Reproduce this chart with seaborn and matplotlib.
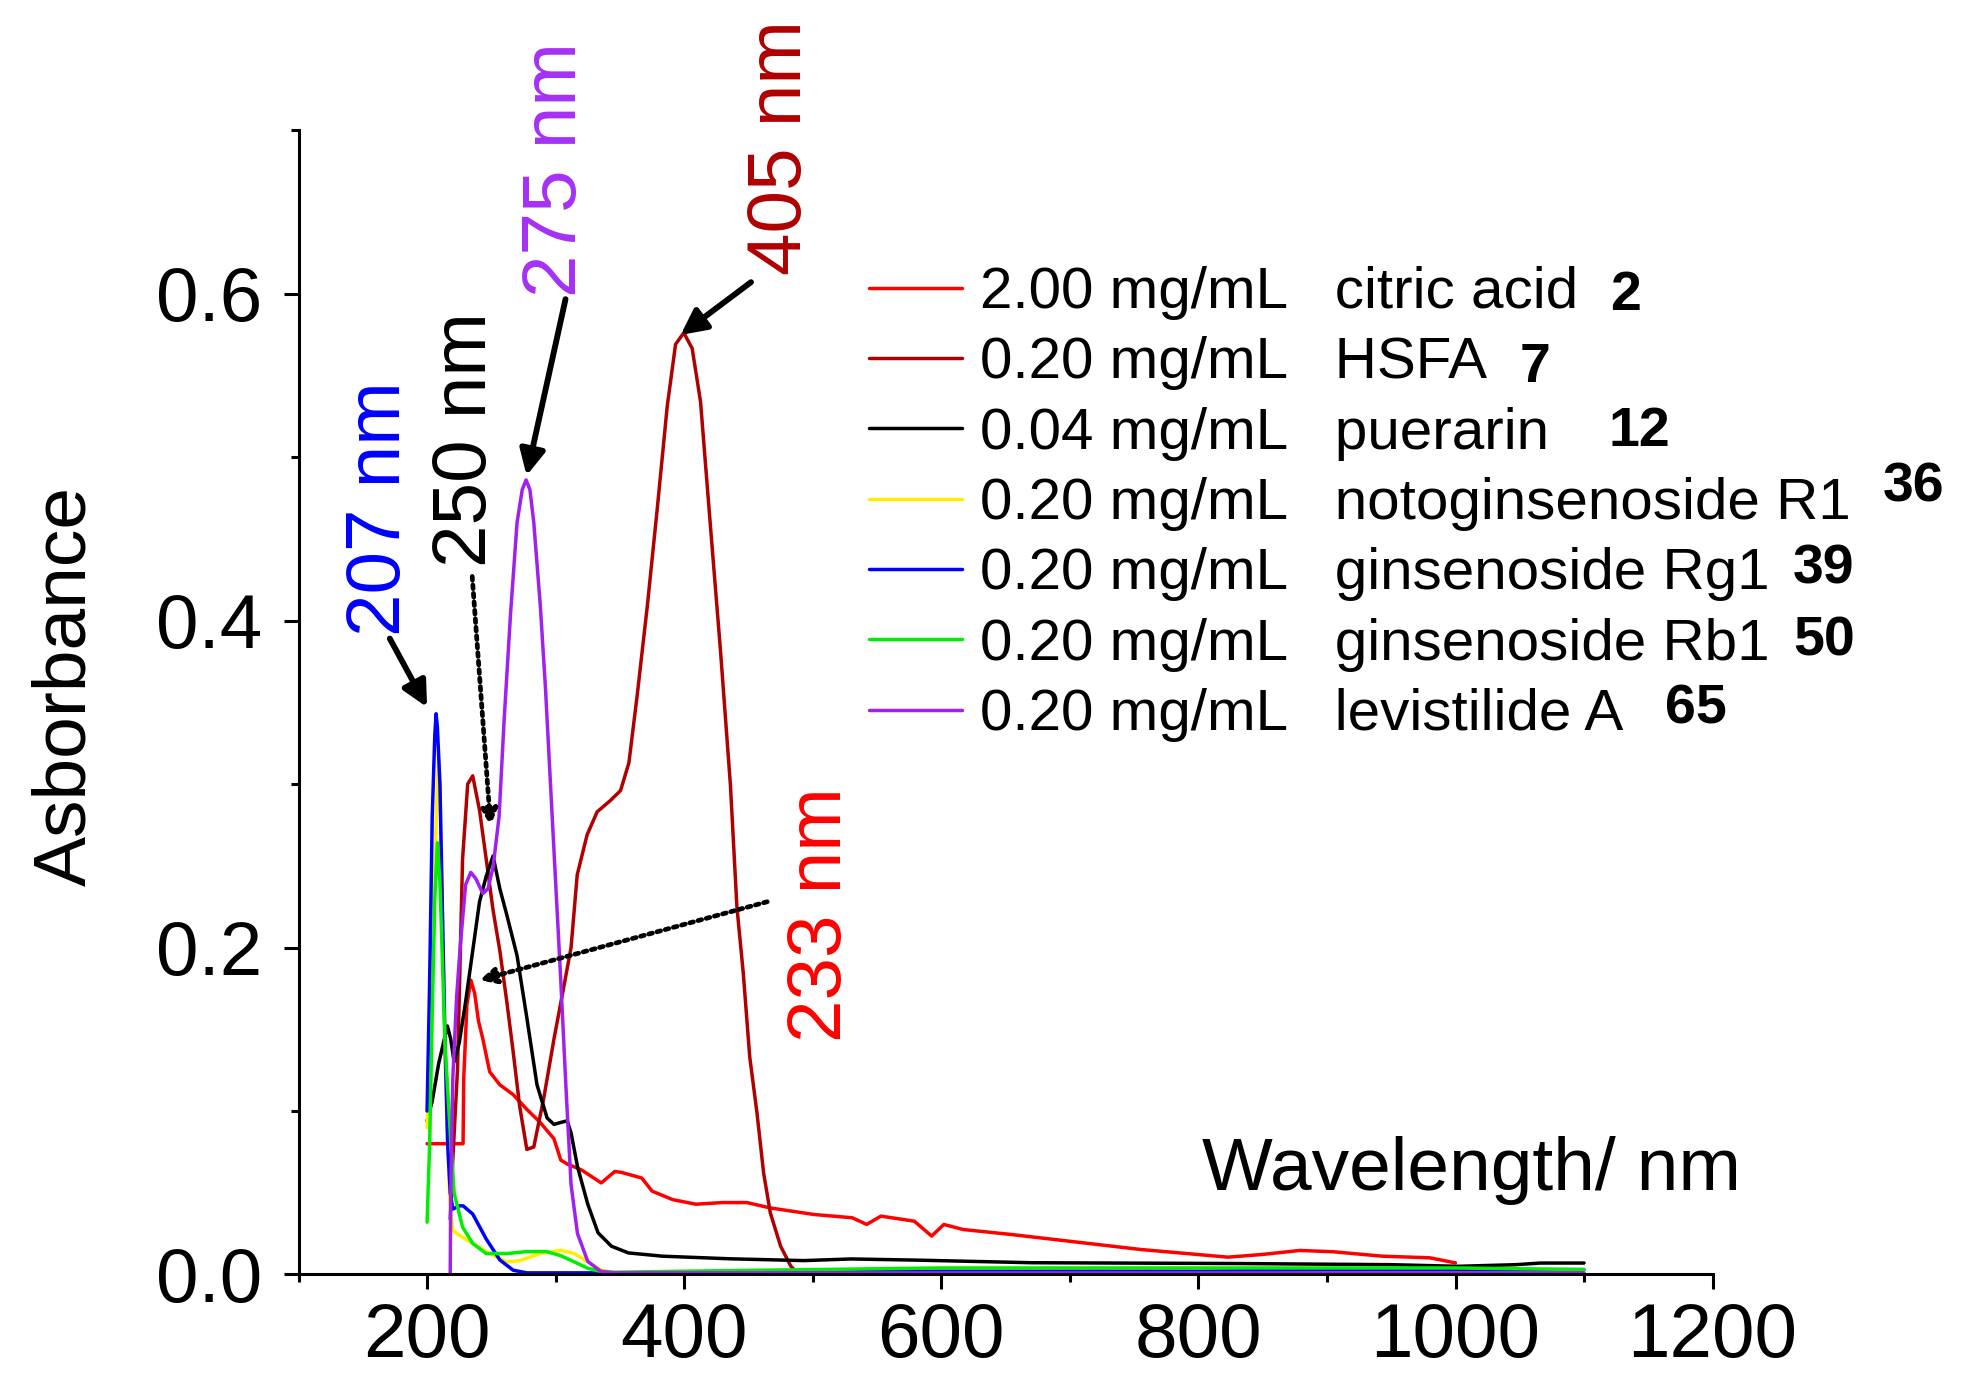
import numpy as np
import pandas as pd
import seaborn as sns
import matplotlib.pyplot as plt
from matplotlib.ticker import MultipleLocator, FormatStrFormatter

# spectra (wavelength nm, absorbance)
citric_x = [200, 228, 228.5, 231, 234, 237, 240, 243.4, 248.7, 256.6, 267, 277.6, 288, 298.7, 304, 309,
            320, 335.5, 346, 351, 367, 375, 391, 409, 430, 448.7, 467, 501, 530.7, 542, 553, 579, 592.5,
            602, 617, 654, 699, 755, 823, 849, 879, 905, 943, 980, 1000]
citric_y = [0.080, 0.080, 0.12, 0.165, 0.180, 0.172, 0.155, 0.144, 0.124, 0.116, 0.110, 0.101, 0.093, 0.083,
            0.070, 0.0676, 0.064, 0.056, 0.063, 0.0625, 0.059, 0.051, 0.0458, 0.043, 0.044, 0.044, 0.0407,
            0.0367, 0.0347, 0.0306, 0.0357, 0.0326, 0.0235, 0.0306, 0.0275, 0.0245, 0.0204, 0.0153, 0.0106,
            0.0122, 0.0147, 0.0139, 0.0112, 0.0102, 0.0071]

hsfa_x = [218, 220, 223.7, 227.6, 231.6, 235.5, 240.8, 246, 251.3, 256.6, 262, 267, 272, 277.6, 283, 290.8,
          298.7, 306.6, 312, 316.8, 324.5, 332.3, 342.7, 350.5, 357, 363.4, 371.2, 379, 386.8, 393.3, 399.7,
          406.2, 412.7, 420.5, 428.3, 436, 441, 446, 451, 456.6, 461.8, 467, 475, 483, 488, 500, 700, 900, 1100]
hsfa_y = [0.034, 0.07, 0.126, 0.254, 0.300, 0.305, 0.284, 0.254, 0.223, 0.198, 0.167, 0.136, 0.103, 0.0765,
          0.078, 0.108, 0.144, 0.177, 0.200, 0.2445, 0.269, 0.283, 0.290, 0.296, 0.313, 0.354, 0.408, 0.468,
          0.531, 0.569, 0.576, 0.5665, 0.534, 0.457, 0.381, 0.299, 0.225, 0.184, 0.133, 0.099, 0.062, 0.0377,
          0.0173, 0.005, 0.001, 0.0, 0.0, 0.0, 0.0]

puer_x = [200, 204, 209, 215.8, 218.4, 221, 225, 230, 235.5, 240.8, 246, 251.3, 256.6, 262, 270, 277.6, 285.5,
          293.4, 298.7, 304, 309, 312, 317, 325, 333, 343.4, 356.6, 383, 435.5, 493, 530, 580, 670, 830, 950,
          1002, 1047, 1066, 1100]
puer_y = [0.094, 0.106, 0.129, 0.152, 0.144, 0.130, 0.1416, 0.167, 0.198, 0.228, 0.2436, 0.256, 0.236, 0.22,
          0.195, 0.157, 0.116, 0.0957, 0.0918, 0.093, 0.094, 0.0866, 0.066, 0.043, 0.0255, 0.0173, 0.0132,
          0.0112, 0.0096, 0.0085, 0.0095, 0.0088, 0.0072, 0.0067, 0.006, 0.005, 0.006, 0.007, 0.007]

r1_x = [200, 203, 206, 208, 209, 210, 212, 214, 216, 218, 220, 225, 235.5, 246, 262, 272, 288, 304, 314.5,
        325, 335.5, 346, 400, 600, 800, 1000, 1100]
r1_y = [0.09, 0.15, 0.25, 0.30, 0.315, 0.30, 0.22, 0.14, 0.08, 0.04, 0.027, 0.024, 0.019, 0.014, 0.0077,
        0.0084, 0.0128, 0.0148, 0.0128, 0.0077, 0.0026, 0.001, 0.001, 0.002, 0.002, 0.001, 0.001]

rg1_x = [200, 202, 204, 206, 207, 208, 210, 212, 214, 216, 218, 220, 225, 228, 235.5, 246, 256.6, 267, 277.6,
         300, 400, 600, 800, 900, 1000, 1100]
rg1_y = [0.10, 0.18, 0.28, 0.33, 0.343, 0.335, 0.30, 0.22, 0.14, 0.08, 0.05, 0.04, 0.042, 0.042, 0.037,
         0.0217, 0.0089, 0.0026, 0.001, 0.001, 0.001, 0.002, 0.002, 0.003, 0.003, 0.003]

rb1_x = [200, 202, 204, 206, 208, 210, 212, 214, 217, 221, 227.6, 235.5, 246, 262, 277.6, 293, 304, 314.5,
         325, 338, 400, 600, 800, 1000, 1100]
rb1_y = [0.032, 0.08, 0.16, 0.23, 0.264, 0.24, 0.19, 0.14, 0.10, 0.05, 0.029, 0.019, 0.0128, 0.0128, 0.014,
         0.014, 0.0115, 0.0077, 0.0038, 0.0013, 0.002, 0.004, 0.004, 0.004, 0.003]

levi_x = [218, 218.4, 220, 223, 226, 230, 234, 238, 243.4, 247.4, 251.3, 256, 260, 265, 270, 274, 277, 280,
          283, 288, 292, 296, 300, 304, 308, 312, 317, 325, 335, 346, 400, 600, 800, 1000, 1100]
levi_y = [0.0, 0.05, 0.12, 0.17, 0.203, 0.2385, 0.246, 0.242, 0.233, 0.236, 0.249, 0.28, 0.34, 0.405, 0.46,
          0.48, 0.486, 0.48, 0.46, 0.41, 0.36, 0.30, 0.24, 0.18, 0.115, 0.055, 0.025, 0.008, 0.002, 0.001,
          0.001, 0.001, 0.001, 0.001, 0.001]

labels = ['2.00 mg/mL   citric acid', '0.20 mg/mL   HSFA', '0.04 mg/mL   puerarin',
          '0.20 mg/mL   notoginsenoside R1', '0.20 mg/mL   ginsenoside Rg1',
          '0.20 mg/mL   ginsenoside Rb1', '0.20 mg/mL   levistilide A']
colors = ['#ff0000', '#b00000', '#000000', '#ffee00', '#0000ff', '#00ee00', '#a020f0']
numbers = ['2', '7', '12', '36', '39', '50', '65']

series_x = [citric_x, hsfa_x, puer_x, r1_x, rg1_x, rb1_x, levi_x]
series_y = [citric_y, hsfa_y, puer_y, r1_y, rg1_y, rb1_y, levi_y]

sns.set_style('ticks')
plt.rcParams['font.family'] = ['Liberation Sans', 'DejaVu Sans']
plt.rcParams['text.color'] = 'black'
plt.rcParams['axes.labelcolor'] = 'black'
plt.rcParams['xtick.color'] = 'black'
plt.rcParams['ytick.color'] = 'black'

fig = plt.figure(figsize=(19.64, 13.99), dpi=100)
ax = fig.add_axes([0.152, 0.089, 0.72, 0.818])

for xs, ys, lab, c in zip(series_x, series_y, labels, colors):
    df = pd.DataFrame({'x': xs, 'y': ys})
    sns.lineplot(data=df, x='x', y='y', ax=ax, color=c, lw=2.5, label=lab,
                 estimator=None, sort=False)

ax.set_xlim(100, 1200)
ax.set_ylim(0, 0.7)
ax.xaxis.set_major_locator(MultipleLocator(200))
ax.xaxis.set_minor_locator(MultipleLocator(100))
ax.yaxis.set_major_locator(MultipleLocator(0.2))
ax.yaxis.set_minor_locator(MultipleLocator(0.1))
ax.yaxis.set_major_formatter(FormatStrFormatter('%.1f'))
ax.xaxis.set_major_formatter(FormatStrFormatter('%d'))
ax.tick_params(which='major', length=11, width=2.2, labelsize=55, colors='black')
ax.tick_params(axis='x', which='major', pad=9)
ax.tick_params(axis='y', which='major', pad=15)
ax.tick_params(which='minor', length=6, width=2.2, colors='black')
sns.despine(ax=ax)
for s in ['left', 'bottom']:
    ax.spines[s].set_linewidth(2.2)
    ax.spines[s].set_color('black')

ax.set_xlabel('')
ax.set_ylabel('Asborbance', fontsize=54, color='black')
ax.yaxis.set_label_coords(-0.14, 0.514)
ax.text(803, 0.0636, 'Wavelength/ nm', fontsize=54, ha='left', va='center', color='black')

# peak labels
peak_txt = ['207 nm', '250 nm', '275 nm', '405 nm', '233 nm']
peak_col = ['#0000ff', '#000000', '#a530f5', '#b00000', '#ff0000']
peak_x = [163.8, 230.7, 301, 475.4, 506.8]
peak_y = [0.3906, 0.433, 0.598, 0.6116, 0.142]
for t, c, px, py in zip(peak_txt, peak_col, peak_x, peak_y):
    ax.text(px, py, t, color=c, fontsize=55, rotation=90, ha='center', va='bottom')

# arrows: (tail, head, dotted)
arrows = [((171, 0.389), (200, 0.347), False),
          ((235.1, 0.427), (249.4, 0.2745), True),
          ((307.7, 0.5966), (277.4, 0.4887), False),
          ((452, 0.607), (397.2, 0.5747), False),
          ((464.6, 0.228), (240.8, 0.18), True)]
for tail, head, dotted in arrows:
    if dotted:
        props = dict(arrowstyle='-|>', color='black', lw=3.4, linestyle=(0, (0.8, 1.0)),
                     mutation_scale=24, shrinkA=0, shrinkB=0)
    else:
        props = dict(arrowstyle='-|>', color='black', lw=4.2, mutation_scale=38,
                     shrinkA=0, shrinkB=0)
    ax.annotate('', xy=head, xytext=tail, arrowprops=props)

leg = ax.legend(loc='upper left', bbox_to_anchor=(869 / 1964, 1 - 266 / 1399),
                bbox_transform=fig.transFigure, frameon=False, fontsize=42,
                handlelength=1.6, handletextpad=0.3, labelspacing=0.28,
                borderpad=0, borderaxespad=0)
for h in leg.get_lines():
    h.set_linewidth(2.5)
for t in leg.get_texts():
    t.set_color('black')

# compound numbers next to the legend entries
num_x = [1610, 1520, 1609, 1883, 1793, 1793, 1665]
num_y = [296, 368, 432, 488, 570, 642, 709]
for n, nx, ny in zip(numbers, num_x, num_y):
    fig.text(nx / 1964, 1 - ny / 1399, n, fontsize=40, fontweight='bold',
             ha='left', va='center', color='black')

fig.savefig('out.png', dpi=100)
